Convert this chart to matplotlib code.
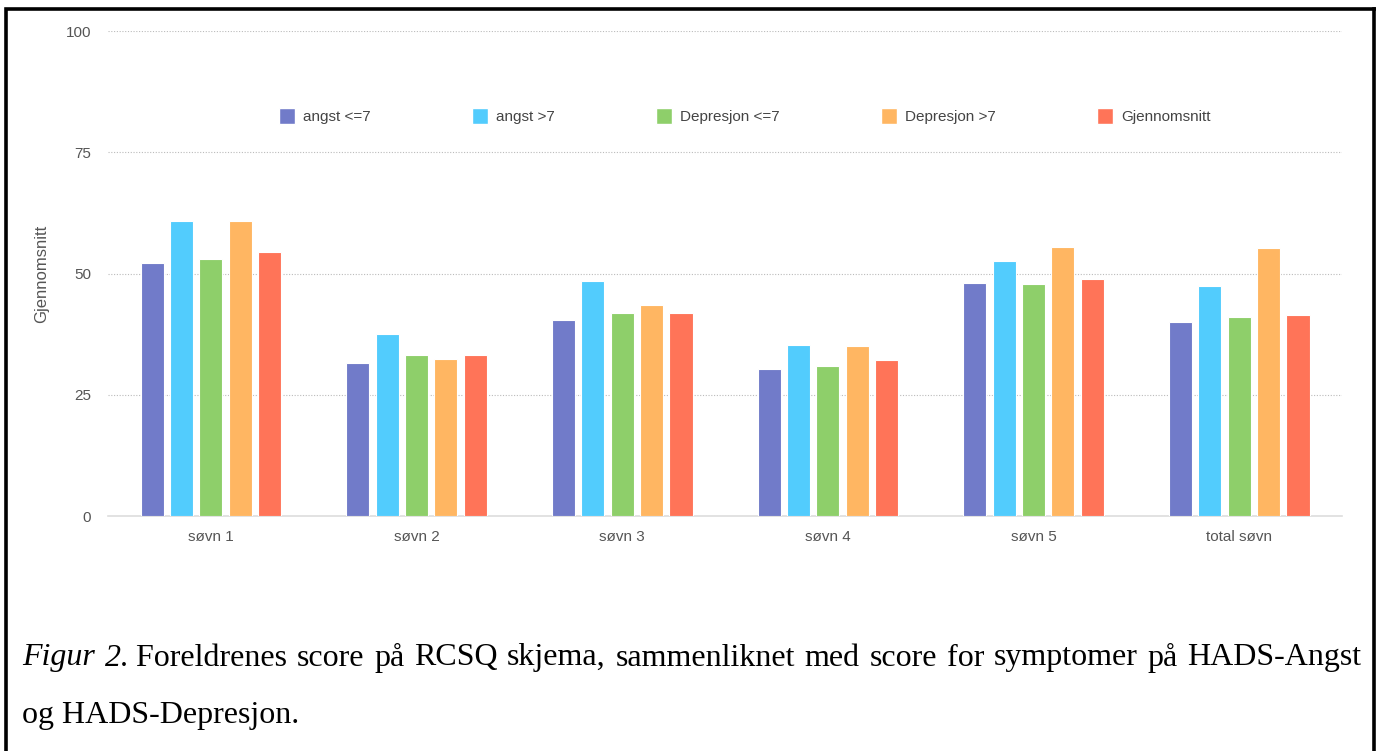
import matplotlib.pyplot as plt
import numpy as np
from matplotlib.patches import Patch
from matplotlib.lines import Line2D

categories = ['søvn 1', 'søvn 2', 'søvn 3', 'søvn 4', 'søvn 5', 'total søvn']
series_names = ['angst <=7', 'angst >7', 'Depresjon <=7', 'Depresjon >7', 'Gjennomsnitt']
angst_lo = [52.2, 31.5, 40.4, 30.4, 48.0, 39.9]
angst_hi = [60.9, 37.6, 48.5, 35.3, 52.6, 47.5]
depr_lo = [53.0, 33.1, 41.9, 30.9, 47.8, 41.0]
depr_hi = [60.8, 32.4, 43.6, 35.1, 55.5, 55.2]
snitt = [54.4, 33.3, 41.9, 32.1, 48.9, 41.4]
yticks = [0, 25, 50, 75, 100]

caption_label = 'Figur 2'
caption_line1 = '. Foreldrenes score på RCSQ skjema, sammenliknet med score for symptomer på HADS-Angst'
caption_line2 = 'og HADS-Depresjon.'

colors = ['#717bc9', '#52ccfd', '#8ecf6a', '#ffb662', '#ff7458']
series = [angst_lo, angst_hi, depr_lo, depr_hi, snitt]

plt.rcParams['font.family'] = ['Liberation Sans', 'DejaVu Sans']

W, H = 1376, 751
fig = plt.figure(figsize=(W / 100, H / 100), dpi=100)
ax = fig.add_axes([0.0785, 0.3129, 0.8968, 0.6458])

x = np.arange(len(categories))
width = 0.112
pitch = 0.143
for i, (vals, c) in enumerate(zip(series, colors)):
    ax.bar(x + (i - 2) * pitch, vals, width, color=c, edgecolor='white',
           linewidth=0.8, zorder=3)

ax.set_xlim(-0.5, len(categories) - 0.5)
ax.set_ylim(0, 100)
ax.set_yticks(yticks)
ax.set_xticks(x)
ax.set_xticklabels(categories)
ax.tick_params(axis='both', length=0, labelsize=11, colors='#555555')
ax.tick_params(axis='y', pad=12)
ax.tick_params(axis='x', pad=10)
ax.grid(axis='y', color='#bbbbbb', linestyle=(0, (1, 1.5)), linewidth=0.8, zorder=0)
for s in ['top', 'right', 'left']:
    ax.spines[s].set_visible(False)
ax.spines['bottom'].set_color('#dddddd')
ax.spines['bottom'].set_linewidth(1.2)
ax.set_ylabel('Gjennomsnitt', fontsize=12, color='#555555', labelpad=12)

handles = [Patch(facecolor=c, edgecolor='white') for c in colors]
ax.legend(handles, series_names, ncol=5, loc='center', bbox_to_anchor=(0.516, 0.825),
          frameon=False, fontsize=11, handlelength=1.05, handleheight=1.3,
          handletextpad=0.55, columnspacing=6.6, labelcolor='#444444')

# frame around the figure, open at the bottom
fig.add_artist(Line2D([0.0047, 0.0047, 0.999], [0.0, 0.988, 0.988], transform=fig.transFigure,
                      color='black', linewidth=2.6, solid_joinstyle='miter'))
fig.add_artist(Line2D([0.9985, 0.9985], [0.0, 0.988], transform=fig.transFigure,
                      color='black', linewidth=2.6))

# caption: first line justified between the margins
cap_font = ['Liberation Serif', 'DejaVu Serif']
cap_size = 23
left_px, right_px = 22, 1361
y1 = 1 - 658 / H
y2 = 1 - 715 / H
renderer = fig.canvas.get_renderer()

rest = caption_line1.split(' ')
# first piece: italic label, then ". Foreldrenes" glued to it
pieces = [('Figur', 'italic', False), ('2', 'italic', False), (rest[0] + ' ' + rest[1], 'normal', True)]
pieces += [(w, 'normal', False) for w in rest[2:]]
texts = [fig.text(0, y1, w, fontsize=cap_size, family=cap_font, style=st, va='center')
         for w, st, _ in pieces]
widths = [t.get_window_extent(renderer).width for t in texts]
n_gaps = sum(1 for _, _, g in pieces[1:] if not g)
gap = (right_px - left_px - sum(widths)) / n_gaps
pos = left_px
for i, (t, wd) in enumerate(zip(texts, widths)):
    if i > 0 and not pieces[i][2]:
        pos += gap
    t.set_x(pos / W)
    pos += wd

fig.text(left_px / W, y2, caption_line2, fontsize=cap_size, family=cap_font, va='center')

fig.savefig('out.png', dpi=100)
